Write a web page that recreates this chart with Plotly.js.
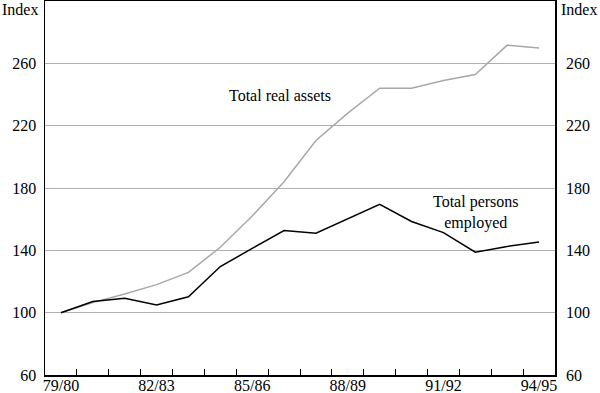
<!DOCTYPE html>
<html>
<head>
<meta charset="utf-8">
<script src="https://cdn.plot.ly/plotly-3.0.1.min.js"></script>
<style>
html,body{margin:0;padding:0;background:#fff;}
#chart{width:600px;height:393px;}
#chart text{font-family:"Liberation Serif","Times New Roman",serif !important;}
</style>
</head>
<body>
<div id="chart"></div>
<script>
const years = ["79/80","80/81","81/82","82/83","83/84","84/85","85/86","86/87","87/88","88/89","89/90","90/91","91/92","92/93","93/94","94/95"];
const tickLabels = ["79/80","","","82/83","","","85/86","","","88/89","","","91/92","","","94/95"];
const realAssets = [100,106.5,112,118,125.8,142,162,184,210.5,228,244,244,249,252.8,271.7,269.8];
const personsEmployed = [100,107.2,109.2,104.9,110.2,129.6,141.2,152.7,151,160,169.5,158.5,151.4,138.8,142.5,145.4];
const yTicks = [60,100,140,180,220,260];

function fnt() { return {family: "Liberation Serif", size: 16, color: "#000"}; }

const traces = [
  {x: years, y: realAssets, type: "scatter", mode: "lines", line: {color: "#a8a8a8", width: 1.5}, hoverinfo: "skip", showlegend: false},
  {x: years, y: personsEmployed, type: "scatter", mode: "lines", line: {color: "#000", width: 1.5}, hoverinfo: "skip", showlegend: false},
  {x: years, y: personsEmployed, yaxis: "y2", type: "scatter", mode: "lines", line: {width: 0}, opacity: 0, hoverinfo: "skip", showlegend: false}
];

const layout = {
  width: 600, height: 393,
  margin: {l: 45, r: 45, t: 1, b: 18},
  paper_bgcolor: "#fff", plot_bgcolor: "#fff",
  font: fnt(),
  xaxis: {
    type: "category", range: [-0.5, 15.5],
    tickmode: "array", tickvals: years, ticktext: tickLabels, tickangle: 0,
    tickson: "boundaries", ticks: "inside", ticklen: 6, tickwidth: 1, tickcolor: "#000",
    ticklabelstandoff: -5,
    showline: true, linecolor: "#000", linewidth: 1.5, mirror: true,
    showgrid: false, zeroline: false, tickfont: fnt(), fixedrange: true
  },
  yaxis: {
    range: [60, 300], tickmode: "array", tickvals: yTicks,
    ticks: "", showline: true, linecolor: "#000", linewidth: 1.5, mirror: true,
    showgrid: true, gridcolor: "#b0b0b0", gridwidth: 1, zeroline: false,
    ticklabelstandoff: 4,
    tickfont: fnt(), fixedrange: true
  },
  yaxis2: {
    overlaying: "y", side: "right", range: [60, 300], tickmode: "array", tickvals: yTicks,
    ticks: "", showline: false, showgrid: false, zeroline: false,
    ticklabelstandoff: 10,
    tickfont: fnt(), fixedrange: true
  },
  annotations: [
    {text: "Index", xref: "paper", yref: "paper", x: -0.05, y: 0.976, xanchor: "center", yanchor: "middle", showarrow: false, font: fnt()},
    {text: "Index", xref: "paper", yref: "paper", x: 1.047, y: 0.976, xanchor: "center", yanchor: "middle", showarrow: false, font: fnt()},
    {text: "Total real assets", xref: "paper", yref: "paper", x: 0.461, y: 0.748, xanchor: "center", yanchor: "middle", showarrow: false, font: fnt()},
    {text: "Total persons<br>employed", xref: "paper", yref: "paper", x: 0.845, y: 0.435, xanchor: "center", yanchor: "middle", showarrow: false, font: fnt(), align: "center"}
  ]
};

Plotly.newPlot("chart", traces, layout, {staticPlot: true, displayModeBar: false});
</script>
</body>
</html>
